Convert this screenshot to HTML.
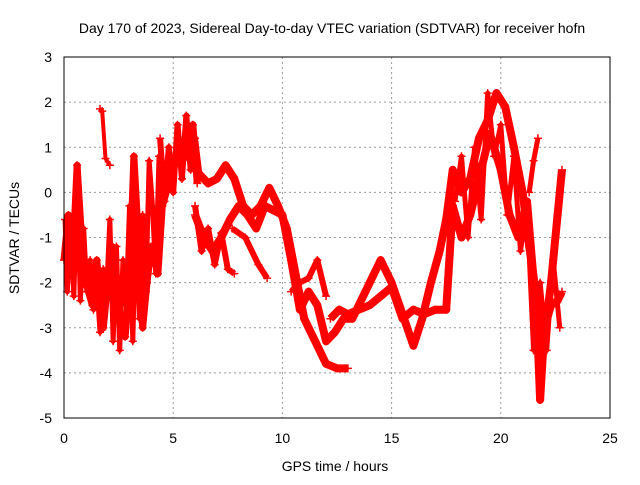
<!DOCTYPE html>
<html><head><meta charset="utf-8"><style>
body{margin:0;background:#fff}
svg text{font-family:"Liberation Sans",sans-serif;font-size:14px;fill:#000}
</style></head><body>
<svg id="chart" width="640" height="480">
<text x="332" y="33" text-anchor="middle">Day 170 of 2023, Sidereal Day-to-day VTEC variation (SDTVAR) for receiver hofn</text>
<text x="335" y="471" text-anchor="middle">GPS time / hours</text>
<text transform="translate(19,238) rotate(-90)" text-anchor="middle">SDTVAR / TECUs</text>
<g id="grid"></g><g id="series"></g>
<rect x="64" y="57" width="546" height="361" fill="none" stroke="#000"/>
</svg>
<script>
const xTicks=[0,5,10,15,20,25];
const yTicks=[3,2,1,0,-1,-2,-3,-4,-5];
const traceA_x=[0,0.2,0.4,0.6,0.8,1,1.3,1.5,1.8,2,2.2,2.5,2.8,3,3.2,3.4,3.6,3.8,4,4.3,4.5,4.8,5,5.3,5.6,5.9,6.1];
const traceA_y=[-1.5,-0.5,-1.5,0.6,-1,-2,-2.5,-1.5,-3,-2,-1.2,-2.5,-3.2,-2,0.8,-1,-3,-2,-1.2,-1.8,-0.3,0.2,0.6,1,0.8,1.5,0.2];
const traceB_x=[5.7,6.2,6.6,7,7.4,7.8,8.2,8.6,9,9.4,9.8,10.2,10.6,11,11.5,12,12.5,13];
const traceB_y=[0.8,0.4,0.2,0.3,0.6,0.3,-0.3,-0.5,-0.3,0.1,-0.3,-0.8,-1.8,-2.8,-3.3,-3.8,-3.9,-3.9];
const traceC_x=[6,6.4,6.8,7.2,7.6,8,8.4,8.8,9.2,9.6,10,10.4,10.8,11.2,11.6,12,12.4,12.8,13.2,13.6,14,14.5,15,15.5,16,16.4,16.8,17.2,17.5,17.8,18.2,18.6,19,19.4,19.8,20.2,20.6,21,21.3,21.6,21.8,22,22.3,22.6,22.8];
const traceC_y=[-0.5,-1,-1.3,-1,-0.6,-0.3,-0.5,-0.8,-0.3,-0.4,-0.5,-1.5,-2.6,-2.2,-2.5,-3.3,-3.1,-2.8,-2.8,-2.4,-2,-1.5,-2,-2.7,-3.4,-2.8,-2,-1.3,-0.6,0.5,0,0.3,1.2,1.6,2.2,1.9,1,0,-1.2,-2.2,-4.6,-3,-2.5,-2.4,-2.2];
const traceD_x=[12.2,12.6,13,13.5,14,14.5,15,15.5,16,16.5,17,17.5,17.8,18.2,18.6,19,19.5,20,20.4,20.8,21.2,21.6,22,22.3,22.6,22.8];
const traceD_y=[-2.8,-2.6,-2.7,-2.6,-2.5,-2.3,-2.1,-2.8,-2.6,-2.7,-2.6,-2.6,-0.3,-1,-0.5,0.3,1.3,0.5,-0.5,-1,-0.2,-2.5,-3.2,-2,-0.5,0.5];
const traceE_x=[7.7,8.3,8.9,9.3];
const traceE_y=[-0.8,-1,-1.6,-1.9];
const traceF_x=[1.65,1.75,1.9,2.1];
const traceF_y=[1.85,1.8,0.75,0.6];
const traceG_x=[21.3,21.5,21.7];
const traceG_y=[0,0.7,1.2];
const traceH_x=[0.05,0.15,0.3,0.45,0.6,0.75,0.9,1.05,1.2,1.35,1.5,1.65,1.8,1.95,2.1,2.25,2.4,2.55,2.7,2.85,3,3.15,3.3,3.45,3.6,3.75,3.9,4.05,4.2,4.35,4.5];
const traceH_y=[-0.6,-2.2,-0.8,-2.3,0.2,-2.4,-0.8,-2.2,-1.5,-2.6,-2,-3.1,-1.7,-2.2,-0.6,-3.3,-1.2,-3.5,-1.5,-2.5,-0.3,-3.3,-0.5,-2.8,-0.5,-2.2,0.7,-0.3,-1.8,0.8,-0.3];
const traceI_x=[4.4,4.6,4.8,5,5.2,5.4,5.6,5.8,6,6.2];
const traceI_y=[1.2,-0.2,1,0,1.5,0.3,1.7,0.5,1.2,0.4];
const traceJ_x=[6,6.3,6.6,6.9,7.2,7.5,7.8];
const traceJ_y=[-0.3,-1.3,-0.8,-1.6,-0.9,-1.7,-1.8];
const traceK_x=[17.9,18.2,18.5,18.8,19.1,19.4,19.7,20,20.3,20.6,20.9,21.2,21.5,21.8,22.1,22.4,22.7];
const traceK_y=[-0.2,0.8,-1,1,-0.6,2.2,0.8,1.5,-0.5,0.8,-1.3,-0.3,-3.5,-2,-3.5,-1.5,-3];
const traceL_x=[10.4,10.8,11.2,11.6,12];
const traceL_y=[-2.2,-2,-1.9,-1.5,-2.3];
const X=v=>64+v*(546/25), Y=v=>57+(3-v)*(361/8);
const NS='http://www.w3.org/2000/svg';
const svg=document.getElementById('chart'),grid=document.getElementById('grid'),ser=document.getElementById('series');
xTicks.forEach(t=>{
 if(t>0&&t<25){const l=document.createElementNS(NS,'line');l.setAttribute('x1',X(t));l.setAttribute('x2',X(t));l.setAttribute('y1',57);l.setAttribute('y2',418);l.setAttribute('stroke','#999');l.setAttribute('stroke-dasharray','2,3');
 
 grid.appendChild(l);}
 const tx=document.createElementNS(NS,'text');tx.setAttribute('x',X(t));tx.setAttribute('y',443);tx.setAttribute('text-anchor','middle');tx.textContent=t;
 
 svg.appendChild(tx);
});
yTicks.forEach(t=>{
 if(t>-5&&t<3){const l=document.createElementNS(NS,'line');l.setAttribute('x1',64);l.setAttribute('x2',610);l.setAttribute('y1',Y(t));l.setAttribute('y2',Y(t));l.setAttribute('stroke','#999');l.setAttribute('stroke-dasharray','2,3');
 
 grid.appendChild(l);}
 const tx=document.createElementNS(NS,'text');tx.setAttribute('x',52);tx.setAttribute('y',Y(t)+5);tx.setAttribute('text-anchor','end');tx.textContent=t;
 
 svg.appendChild(tx);
});
function trace(xs,ys,name,w){
 const p=document.createElementNS(NS,'polyline');
 p.setAttribute('points',xs.map((x,i)=>X(x)+','+Y(ys[i])).join(' '));
 p.setAttribute('fill','none');p.setAttribute('stroke','#f00');p.setAttribute('stroke-width',w);p.setAttribute('stroke-linejoin','round');
 
 
 ser.appendChild(p);
 xs.forEach((x,i)=>{
  const m=document.createElementNS(NS,'path');const cx=X(x),cy=Y(ys[i]);
  m.setAttribute('d',`M${cx-4},${cy}h8M${cx},${cy-4}v8`);m.setAttribute('stroke','#f00');m.setAttribute('stroke-width','1.5');
  
  
  ser.appendChild(m);
 });
}
trace(traceA_x,traceA_y,'trace-a',7);
trace(traceB_x,traceB_y,'trace-b',8);
trace(traceC_x,traceC_y,'trace-c',8);
trace(traceD_x,traceD_y,'trace-d',8);
trace(traceE_x,traceE_y,'trace-e',6);
trace(traceF_x,traceF_y,'trace-f',4);
trace(traceG_x,traceG_y,'trace-g',5);
trace(traceH_x,traceH_y,'trace-h',5);
trace(traceI_x,traceI_y,'trace-i',6);
trace(traceJ_x,traceJ_y,'trace-j',6);
trace(traceK_x,traceK_y,'trace-k',5);
trace(traceL_x,traceL_y,'trace-l',6);
</script>
</body></html>
